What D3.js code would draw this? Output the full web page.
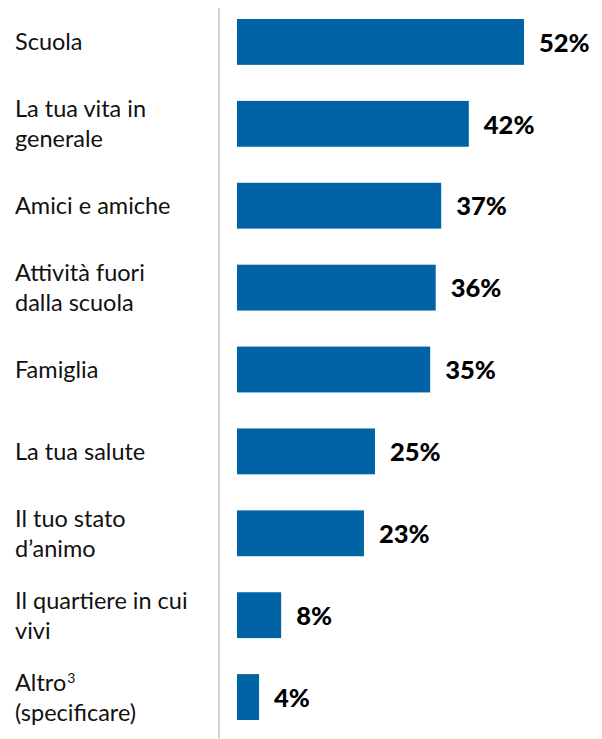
<!DOCTYPE html>
<html>
<head>
<meta charset="utf-8">
<script src="https://cdn.jsdelivr.net/npm/d3@7"></script>
<style>
  html, body { margin: 0; padding: 0; background: #fff; }
  svg { display: block; }
</style>
</head>
<body>
<svg id="chart" width="602" height="739"></svg>
<script>
// Categories (each entry is a list of wrapped label lines) and their shares in percent
const categories = [
  ["Scuola"],
  ["La tua vita in", "generale"],
  ["Amici e amiche"],
  ["Attività fuori", "dalla scuola"],
  ["Famiglia"],
  ["La tua salute"],
  ["Il tuo stato", "d’animo"],
  ["Il quartiere in cui", "vivi"],
  ["Altro|3", "(specificare)"]   // "|" marks a superscript footnote number
];
const values = [52, 42, 37, 36, 35, 25, 23, 8, 4];

const W = 602, H = 739;
const svg = d3.select("#chart");

const rows = categories.map((c, i) => ({ id: i, lines: c, value: values[i] }));

const y = d3.scaleBand()
  .domain(rows.map(d => d.id))
  .range([19, 720])
  .paddingInner(0.44)
  .paddingOuter(0);

const x = d3.scaleLinear()
  .domain([0, 52])
  .range([237, 524]);

// Vertical baseline separating labels from bars
svg.append("line")
  .attr("x1", 219).attr("x2", 219)
  .attr("y1", 8).attr("y2", H)
  .attr("stroke", "#d4d4d4")
  .attr("stroke-width", 2);

// Bars
svg.append("g").selectAll("rect")
  .data(rows)
  .join("rect")
  .attr("x", x(0))
  .attr("y", d => y(d.id))
  .attr("width", d => x(d.value) - x(0))
  .attr("height", y.bandwidth())
  .attr("fill", "#0063a6");

// Category labels, vertically centred on each bar
const lineH = 30;
svg.append("g").selectAll("text")
  .data(rows)
  .join("text")
  .attr("font-family", "Lato, 'Open Sans', sans-serif")
  .attr("font-size", 23.5)
  .attr("fill", "#111")
  .each(function(d) {
    const cy = y(d.id) + y.bandwidth() / 2;
    const n = d.lines.length;
    const t = d3.select(this);
    d.lines.forEach((ln, k) => {
      const [main, sup] = ln.split("|");
      const ts = t.append("tspan")
        .attr("x", 15)
        .attr("y", cy + (k - (n - 1) / 2) * lineH)
        .attr("dy", "0.36em")
        .text(main);
      if (sup) {
        t.append("tspan")
          .attr("font-size", 14)
          .attr("dx", 1)
          .attr("baseline-shift", "55%")
          .text(sup);
      }
    });
  });

// Value labels
svg.append("g").selectAll("text")
  .data(rows)
  .join("text")
  .attr("x", d => x(d.value) + 15)
  .attr("y", d => y(d.id) + y.bandwidth() / 2)
  .attr("dy", "0.38em")
  .attr("font-family", "Lato, 'Open Sans', sans-serif")
  .attr("font-weight", 900)
  .attr("font-size", 25.5)
  .attr("fill", "#000")
  .text(d => d.value + "%");
</script>
</body>
</html>
